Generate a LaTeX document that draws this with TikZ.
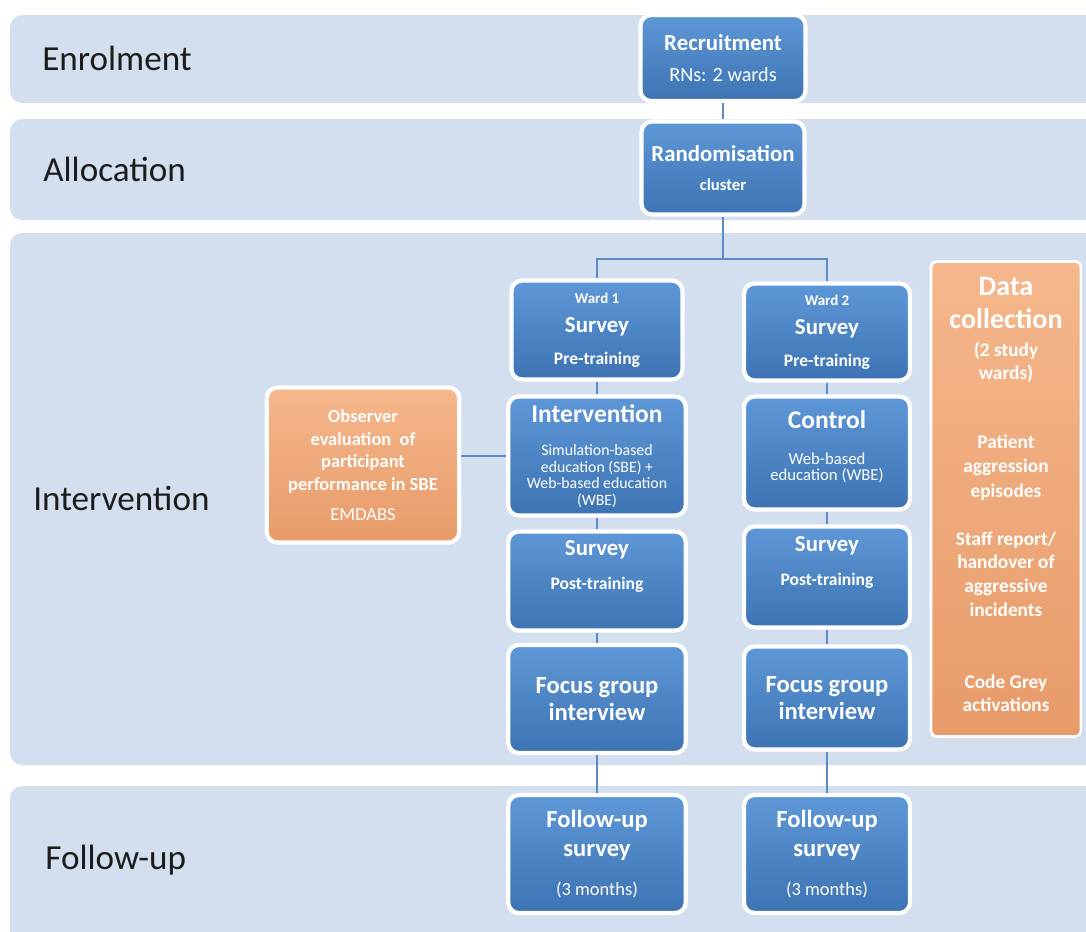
\documentclass[tikz,border=0pt]{standalone}
\usepackage{fontspec}
\setmainfont{Carlito}
\usetikzlibrary{positioning,shadows}
\definecolor{bandblue}{HTML}{D3DEEF}
\definecolor{boxtop}{HTML}{5E97D7}
\definecolor{boxbot}{HTML}{3D73B2}
\definecolor{orgtop}{HTML}{F5B78C}
\definecolor{orgbot}{HTML}{E89B69}
\definecolor{linkblue}{HTML}{5B8BC8}
\definecolor{labelgrey}{HTML}{1C1C1C}
\newcommand{\titlefont}[1]{{\fontsize{13}{15}\selectfont #1}}
\newcommand{\headfont}[1]{{\fontsize{14.5}{16}\selectfont #1}}
\newcommand{\smallreg}[1]{{\mdseries\fontsize{9}{10}\selectfont #1}}
\tikzset{
	band/.style={fill=bandblue,rounded corners=7pt},
	phase/.style={anchor=west,inner sep=0pt,text=labelgrey,font=\fontsize{20}{24}\selectfont},
	bluebox/.style={draw=white,line width=2.4pt,rounded corners=6pt,top color=boxtop,bottom color=boxbot,
		text=white,align=center,font=\bfseries\fontsize{10}{12}\selectfont,
		drop shadow={opacity=0.35,shadow xshift=0.8pt,shadow yshift=-0.8pt}},
	orangebox/.style={bluebox,top color=orgtop,bottom color=orgbot},
	colA/.style={minimum width=3.55cm},
	colB/.style={minimum width=3.32cm},
	link/.style={draw=linkblue,line width=0.8pt}
}
\begin{document}
\begin{tikzpicture}[x=0.02cm,y=-0.02cm]
	\useasboundingbox (0,0) rectangle (1086,931);
	\fill[white] (0,0) rectangle (1086,931);
	% phase bands
	\fill[band] (10,15) rectangle (1110,103);
	\fill[band] (10,119) rectangle (1110,220);
	\fill[band] (10,233) rectangle (1110,765);
	\fill[band] (10,786) rectangle (1110,950);
	\node[phase] (phEnrol) at (42,58) {Enrolment};
	\node[phase] (phAlloc) at (43,169) {Allocation};
	\node[phase] (phInterv) at (33,498) {Intervention};
	\node[phase] (phFollow) at (45,860) {Follow-up};

	\node[bluebox,minimum width=3.3cm,minimum height=1.72cm] (recruit) at (723,58)
		{\titlefont{Recruitment}\\[6pt]{\mdseries\fontsize{11.5}{13}\selectfont RNs: 2 wards}};
	\node[bluebox,minimum width=3.26cm,minimum height=1.86cm] (random) at (723,168)
		{\titlefont{Randomisation}\\[5pt]{\fontsize{9.5}{11}\selectfont cluster}};
	\coordinate (split) at (723,259);

	% ward 1
	\node[bluebox,minimum width=3.42cm,minimum height=1.98cm] (surveyA) at (597,330)
		{{\fontsize{8.5}{10}\selectfont Ward 1}\\[4.5pt]\titlefont{Survey}\\[6.5pt]Pre-training};
	\node[bluebox,colA,minimum height=2.38cm] (sbe) at (597,456)
		{\headfont{Intervention}\\[7pt]\smallreg{Simulation-based}\\[-2.6pt]\smallreg{education (SBE) +}\\[-2.6pt]\smallreg{Web-based education}\\[-2.6pt]\smallreg{(WBE)}};
	\node[bluebox,colA,minimum height=1.98cm] (postA) at (597,581)
		{\titlefont{Survey}\\[7pt]Post-training\\[6pt]\mbox{}};
	\node[bluebox,colA,minimum height=2.16cm] (focusA) at (597,699)
		{\fontsize{14}{16}\selectfont Focus group\\[2pt]\fontsize{14}{16}\selectfont interview};
	\node[bluebox,colA,minimum height=2.36cm] (followA) at (597,854)
		{\fontsize{14}{16}\selectfont Follow-up\\[4.5pt]\fontsize{14}{16}\selectfont survey\\[10pt]{\mdseries\fontsize{10.5}{12}\selectfont (3 months)}};

	% ward 2
	\node[bluebox,colB,minimum height=1.94cm] (surveyB) at (827,332)
		{{\fontsize{8.5}{10}\selectfont Ward 2}\\[4.5pt]\titlefont{Survey}\\[6.5pt]Pre-training};
	\node[bluebox,colB,minimum height=2.26cm] (control) at (827,453)
		{\headfont{Control}\\[8pt]{\mdseries\fontsize{9.5}{11}\selectfont Web-based}\\[-2.4pt]{\mdseries\fontsize{9.5}{11}\selectfont education (WBE)}\\[-4pt]\mbox{}};
	\node[bluebox,colB,minimum height=2.02cm] (postB) at (827,577)
		{\titlefont{Survey}\\[7pt]Post-training\\[6pt]\mbox{}};
	\node[bluebox,colB,minimum height=2.06cm] (focusB) at (827,698)
		{\fontsize{14}{16}\selectfont Focus group\\[2pt]\fontsize{14}{16}\selectfont interview};
	\node[bluebox,colB,minimum height=2.36cm] (followB) at (827,854)
		{\fontsize{14}{16}\selectfont Follow-up\\[4.5pt]\fontsize{14}{16}\selectfont survey\\[10pt]{\mdseries\fontsize{10.5}{12}\selectfont (3 months)}};

	\node[orangebox,minimum width=3.85cm,minimum height=3.1cm,font=\bfseries\fontsize{10.5}{12}\selectfont] (observer) at (363,465)
		{Observer\\[1pt]evaluation\ \ of\\[1pt]participant\\[1pt]performance in SBE\\[5pt]{\mdseries EMDABS}};
	\node[orangebox,line width=1.5pt,rounded corners=3pt,minimum width=3.0cm,minimum height=9.5cm,font=\bfseries\fontsize{11}{12}\selectfont] (datacoll) at (1006,499)
		{{\fontsize{16}{18}\selectfont Data}\\[6.5pt]{\fontsize{16}{18}\selectfont collection}\\[4pt](2 study\\[1.5pt]wards)\\[27pt]Patient\\[2pt]aggression\\[2pt]episodes\\[15pt]Staff report/\\[1.5pt]handover of\\[1.5pt]aggressive\\[1.5pt]incidents\\[29pt]Code Grey\\[1.5pt]activations\\[-7pt]\mbox{}};

	% connectors
	\draw[link] (recruit) -- (random);
	\draw[link] (random) -- (split);
	\draw[link] (surveyA.north) |- (split) -| (surveyB.north);
	\foreach \a/\b in {surveyA/sbe,sbe/postA,postA/focusA,focusA/followA,surveyB/control,control/postB,postB/focusB,focusB/followB}
		\draw[link] (\a) -- (\b);
	\draw[link] (sbe.west) -- (sbe.west -| observer.east);
\end{tikzpicture}
\end{document}
